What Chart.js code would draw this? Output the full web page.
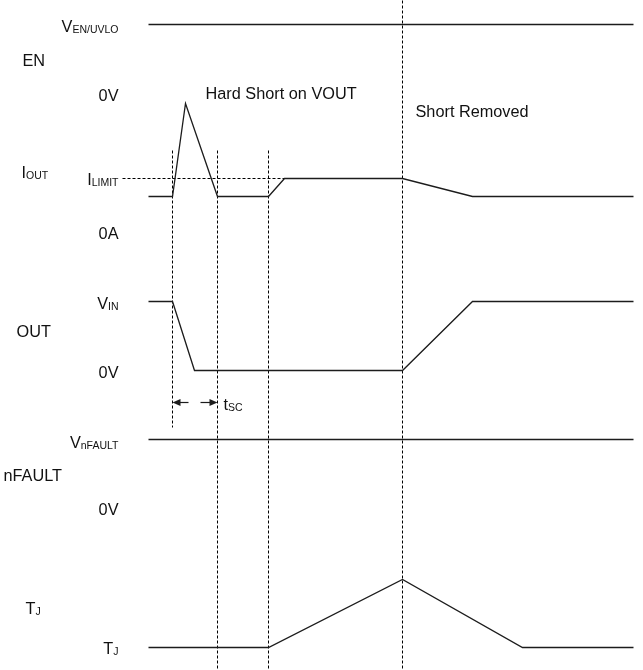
<!DOCTYPE html>
<html>
<head>
<meta charset="utf-8">
<script src="https://cdn.jsdelivr.net/npm/chart.js@4/dist/chart.umd.min.js"></script>
<style>
  html, body { margin: 0; padding: 0; background: #ffffff; }
  #wrap { width: 643px; height: 670px; }
</style>
</head>
<body>
<div id="wrap"><canvas id="c" width="643" height="670"></canvas></div>
<script>
// ---- Waveform data (diagram units: x = time, y = level position) ----
const enTime = [148, 633];
const enLevel = [24, 24];

const ioutTime = [148, 172, 185, 217, 268, 284, 402, 472, 633];
const ioutLevel = [196, 196, 103, 196, 196, 178, 178, 196, 196];

const outTime = [148, 172, 194, 402, 472, 633];
const outLevel = [301, 301, 370, 370, 301, 301];

const nfaultTime = [148, 633];
const nfaultLevel = [439, 439];

const tjTime = [148, 268, 402, 522, 633];
const tjLevel = [647, 647, 579, 647, 647];

// I_LIMIT reference (dashed)
const ilimitTime = [122, 284];
const ilimitLevel = [178, 178];

// Event markers (dashed verticals): time, top, bottom
const markerTime = [172, 217, 268, 402];
const markerTop = [150, 150, 150, 0];
const markerBottom = [427, 670, 670, 670];

// Text
const signalNames = ["EN", "I", "OUT", "nFAULT", "T"];
const signalSubs = ["", "OUT", "", "", "J"];
const levelNames = ["V", "0V", "I", "0A", "V", "0V", "V", "0V", "T"];
const levelSubs = ["EN/UVLO", "", "LIMIT", "", "IN", "", "nFAULT", "", "J"];
const noteTexts = ["Hard Short on VOUT", "Short Removed", "t"];
const noteSubs = ["", "", "SC"];

// ---- Layout for text (positions, not data) ----
const signalPos = [[22, 65], [21, 177], [16, 336], [3, 480], [25, 613]];
const levelRight = 118;
const levelBase = [31, 100, 184, 238, 308, 377, 447, 514, 653];
const notePos = [[205, 98], [415, 116], [223, 409]];
const tscArrowY = 402;
const tscArrows = [[188, 172], [200, 217]];

const LINE = '#1c1c1c';
const FONT = '"Liberation Sans", Arial, sans-serif';
const MAIN = 16.3, SUB = 10.5;

function series(xs, ys) { return xs.map((x, i) => ({ x: x, y: ys[i] })); }

const datasets = [];
function addTrace(xs, ys, dash) {
  datasets.push({
    data: series(xs, ys), showLine: true, borderColor: dash ? '#000' : LINE,
    borderWidth: dash ? 1 : 1.3, borderDash: dash || [], pointRadius: 0,
    fill: false, tension: 0
  });
}
addTrace(enTime, enLevel);
addTrace(ioutTime, ioutLevel);
addTrace(outTime, outLevel);
addTrace(nfaultTime, nfaultLevel);
addTrace(tjTime, tjLevel);
addTrace(ilimitTime, ilimitLevel, [3, 2]);
markerTime.forEach((t, i) => addTrace([t, t], [markerTop[i], markerBottom[i]], [3, 2]));

function drawText(ctx, txt, sub, x, y, alignRight) {
  ctx.font = MAIN + 'px ' + FONT;
  const w1 = ctx.measureText(txt).width;
  ctx.font = SUB + 'px ' + FONT;
  const w2 = sub ? ctx.measureText(sub).width : 0;
  let sx = alignRight ? x - (w1 + w2) : x;
  ctx.font = MAIN + 'px ' + FONT;
  ctx.fillText(txt, sx, y);
  if (sub) {
    ctx.font = SUB + 'px ' + FONT;
    ctx.fillText(sub, sx + w1, y + 1.5);
  }
}

const textPlugin = {
  id: 'diagramText',
  afterDatasetsDraw(chart) {
    const ctx = chart.ctx;
    const xs = chart.scales.x, ys = chart.scales.y;
    const px = v => xs.getPixelForValue(v), py = v => ys.getPixelForValue(v);
    ctx.save();
    ctx.fillStyle = '#111';
    ctx.textBaseline = 'alphabetic';
    ctx.textAlign = 'left';
    signalNames.forEach((s, i) => drawText(ctx, s, signalSubs[i], px(signalPos[i][0]), py(signalPos[i][1]), false));
    levelNames.forEach((s, i) => drawText(ctx, s, levelSubs[i], px(levelRight), py(levelBase[i]), true));
    noteTexts.forEach((s, i) => drawText(ctx, s, noteSubs[i], px(notePos[i][0]), py(notePos[i][1]), false));
    // t_SC arrows
    ctx.strokeStyle = LINE; ctx.fillStyle = LINE; ctx.lineWidth = 1.2;
    tscArrows.forEach(([from, to]) => {
      const y = py(tscArrowY), x0 = px(from), x1 = px(to);
      const dir = Math.sign(x1 - x0);
      ctx.beginPath(); ctx.moveTo(x0, y); ctx.lineTo(x1 - dir * 6, y); ctx.stroke();
      ctx.beginPath(); ctx.moveTo(x1, y); ctx.lineTo(x1 - dir * 8, y - 3.5); ctx.lineTo(x1 - dir * 8, y + 3.5); ctx.closePath(); ctx.fill();
    });
    ctx.restore();
  }
};

new Chart(document.getElementById('c'), {
  type: 'scatter',
  data: { datasets: datasets },
  options: {
    responsive: false, animation: false,
    layout: { padding: 0 },
    plugins: { legend: { display: false }, tooltip: { enabled: false } },
    scales: {
      x: { type: 'linear', min: -0.5, max: 642.5, display: false },
      y: { type: 'linear', min: -0.5, max: 669.5, reverse: true, display: false }
    }
  },
  plugins: [textPlugin]
});
</script>
</body>
</html>
